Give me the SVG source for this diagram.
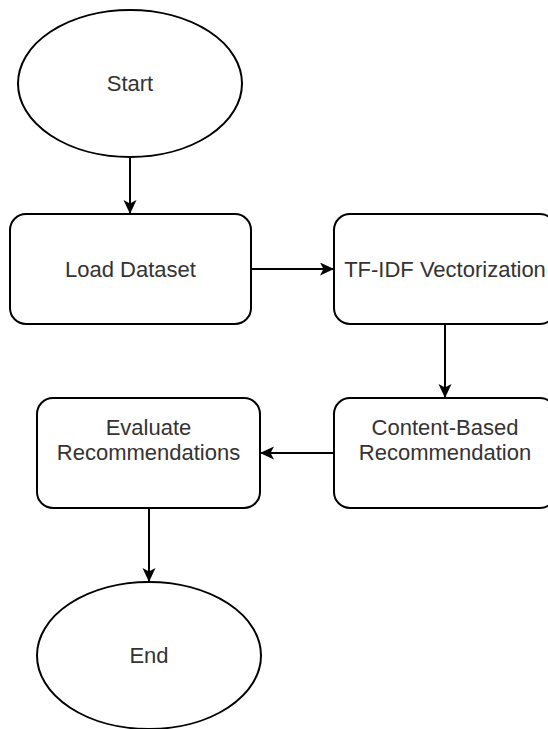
<svg xmlns="http://www.w3.org/2000/svg" width="548" height="729" viewBox="0 0 548 729">
<style>
.shape{fill:#ffffff;stroke:#000000;stroke-width:2}
.lbl{font-family:"Liberation Sans",Arial,Helvetica,sans-serif;font-size:22px;fill:#333333;text-anchor:middle}
.edge{fill:none;stroke:#000000;stroke-width:2}
</style>
<defs>
<marker id="arrow" markerUnits="userSpaceOnUse" markerWidth="14" markerHeight="14" refX="13" refY="6.5" orient="auto">
<path d="M0,0 L14,6.5 L0,13 L3.5,6.5 Z" fill="#000000"/>
</marker>
</defs>
<rect x="0" y="0" width="548" height="729" fill="#ffffff"/>
<g id="start">
<ellipse class="shape" cx="130" cy="83.5" rx="112" ry="73.5"/>
<text class="lbl" x="130" y="91">Start</text>
</g>
<g id="load-dataset">
<rect class="shape" x="10" y="214" width="241" height="110" rx="16" ry="16"/>
<text class="lbl" x="130.5" y="277">Load Dataset</text>
</g>
<g id="tfidf">
<rect class="shape" x="334" y="214" width="222" height="110" rx="16" ry="16"/>
<text class="lbl" x="445" y="277">TF-IDF Vectorization</text>
</g>
<g id="content-based">
<rect class="shape" x="334" y="398" width="222" height="110" rx="16" ry="16"/>
<text class="lbl" x="445" y="435"><tspan x="445">Content-Based</tspan><tspan x="445" dy="25">Recommendation</tspan></text>
</g>
<g id="evaluate">
<rect class="shape" x="37" y="398" width="223" height="110" rx="16" ry="16"/>
<text class="lbl" x="148.5" y="435"><tspan x="148.5">Evaluate</tspan><tspan x="148.5" dy="25">Recommendations</tspan></text>
</g>
<g id="end">
<ellipse class="shape" cx="149" cy="655.5" rx="112" ry="73.5"/>
<text class="lbl" x="149" y="663">End</text>
</g>
<g id="connectors">
<line class="edge" x1="130" y1="157" x2="130" y2="213" marker-end="url(#arrow)"/>
<line class="edge" x1="251" y1="269" x2="333" y2="269" marker-end="url(#arrow)"/>
<line class="edge" x1="445" y1="324" x2="445" y2="397" marker-end="url(#arrow)"/>
<line class="edge" x1="334" y1="453" x2="261" y2="453" marker-end="url(#arrow)"/>
<line class="edge" x1="149" y1="508" x2="149" y2="581" marker-end="url(#arrow)"/>
</g>
</svg>
